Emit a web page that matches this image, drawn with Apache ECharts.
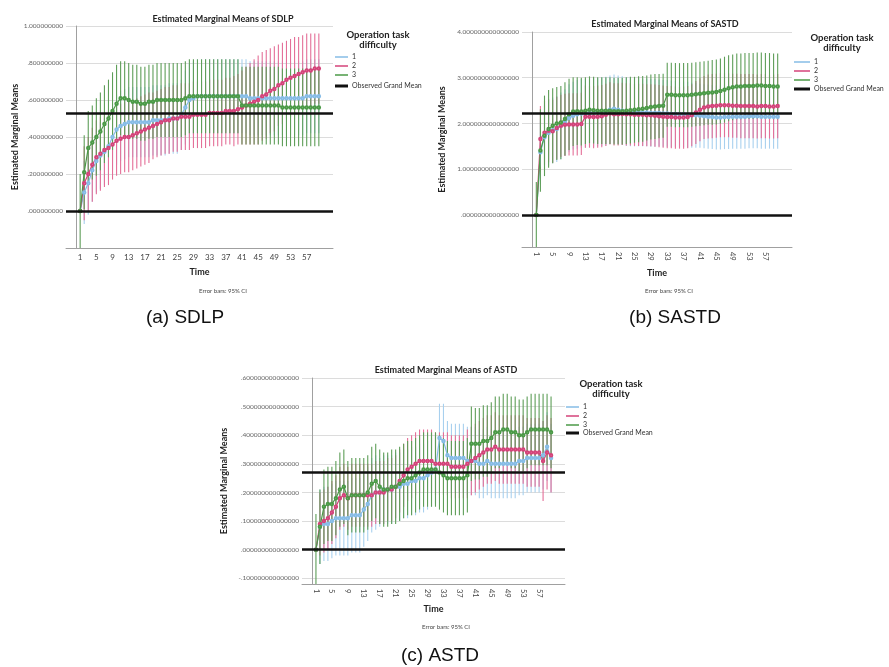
<!doctype html>
<html lang="en">
<head>
<meta charset="UTF-8">
<title>Estimated Marginal Means</title>
<script src="https://cdn.jsdelivr.net/npm/echarts@6/dist/echarts.min.js"></script>
<style>
    html, body { margin: 0; padding: 0; background: #fff; }
    #main { width: 889px; height: 667px; }
</style>
</head>
<body>
<div id="main"></div>
<script>
// time points on the x axis and the labels shown
var time = [1,2,3,4,5,6,7,8,9,10, 11,12,13,14,15,16,17,18,19,20, 21,22,23,24,25,26,27,28,29,30,
            31,32,33,34,35,36,37,38,39,40, 41,42,43,44,45,46,47,48,49,50, 51,52,53,54,55,56,57,58,59,60];
var timeTicks = [1,5,9,13,17,21,25,29,33,37,41,45,49,53,57];
var groups = ['1', '2', '3'];

// (a) SDLP
var sdlpYTicks = [0, 0.2, 0.4, 0.6, 0.8, 1.0];
var sdlpGrand = 0.525;
var sdlpMean1 = [0.00,0.10,0.15,0.22,0.27,0.30,0.32,0.35,0.40,0.44, 0.46,0.47,0.48,0.48,0.48,0.48,0.48,0.48,0.49,0.49,
                 0.49,0.49,0.50,0.50,0.50,0.52,0.56,0.60,0.61,0.62, 0.62,0.62,0.62,0.62,0.62,0.62,0.62,0.62,0.62,0.62,
                 0.62,0.62,0.61,0.61,0.61,0.61,0.61,0.61,0.61,0.61, 0.61,0.61,0.61,0.61,0.61,0.61,0.62,0.62,0.62,0.62];
var sdlpHw1 =   [0.00,0.17,0.17,0.17,0.17,0.18,0.18,0.18,0.18,0.19, 0.19,0.19,0.19,0.19,0.19,0.19,0.19,0.19,0.19,0.19,
                 0.19,0.19,0.19,0.19,0.19,0.19,0.20,0.20,0.20,0.20, 0.20,0.20,0.20,0.20,0.20,0.20,0.20,0.20,0.20,0.20,
                 0.20,0.20,0.20,0.20,0.20,0.20,0.20,0.20,0.20,0.20, 0.20,0.20,0.20,0.20,0.20,0.20,0.20,0.20,0.20,0.20];
var sdlpMean2 = [0.00,0.15,0.20,0.25,0.29,0.31,0.33,0.34,0.36,0.38, 0.39,0.40,0.40,0.41,0.42,0.43,0.44,0.45,0.46,0.47,
                 0.48,0.49,0.49,0.50,0.50,0.51,0.51,0.51,0.52,0.52, 0.52,0.52,0.53,0.53,0.53,0.53,0.54,0.54,0.54,0.55,
                 0.56,0.57,0.58,0.59,0.60,0.62,0.63,0.65,0.66,0.68, 0.69,0.71,0.72,0.73,0.74,0.75,0.76,0.76,0.77,0.77];
var sdlpHw2 =   [0.00,0.20,0.20,0.20,0.20,0.20,0.20,0.20,0.19,0.19, 0.19,0.19,0.19,0.19,0.19,0.19,0.19,0.19,0.18,0.18,
                 0.18,0.18,0.18,0.18,0.18,0.18,0.18,0.18,0.18,0.18, 0.18,0.18,0.18,0.18,0.18,0.18,0.18,0.18,0.19,0.19,
                 0.20,0.21,0.22,0.23,0.24,0.24,0.24,0.23,0.23,0.22, 0.22,0.21,0.21,0.21,0.20,0.20,0.20,0.20,0.19,0.19];
var sdlpMean3 = [0.00,0.21,0.34,0.37,0.40,0.43,0.47,0.50,0.54,0.58, 0.61,0.61,0.60,0.59,0.59,0.58,0.58,0.59,0.59,0.60,
                 0.60,0.60,0.60,0.60,0.60,0.60,0.61,0.62,0.62,0.62, 0.62,0.62,0.62,0.62,0.62,0.62,0.62,0.62,0.62,0.62,
                 0.57,0.57,0.57,0.57,0.57,0.57,0.57,0.57,0.57,0.57, 0.56,0.56,0.56,0.56,0.56,0.56,0.56,0.56,0.56,0.56];
var sdlpHw3 =   [0.20,0.20,0.20,0.20,0.21,0.21,0.21,0.21,0.21,0.21, 0.20,0.20,0.20,0.20,0.20,0.20,0.20,0.20,0.20,0.20,
                 0.20,0.20,0.20,0.20,0.20,0.20,0.20,0.20,0.20,0.20, 0.20,0.20,0.20,0.20,0.20,0.20,0.20,0.20,0.20,0.20,
                 0.21,0.21,0.21,0.21,0.21,0.21,0.21,0.21,0.21,0.21, 0.21,0.21,0.21,0.21,0.21,0.21,0.21,0.21,0.21,0.21];

// (b) SASTD
var sastdYTicks = [0, 1, 2, 3, 4];
var sastdGrand = 2.22;
var sastdMean1 = [0.00,1.37,1.70,1.80,1.85,1.88,1.95,2.02,2.12,2.17, 2.20,2.22,2.22,2.23,2.24,2.25,2.26,2.27,2.30,2.32,
                  2.30,2.28,2.26,2.25,2.25,2.25,2.24,2.24,2.23,2.23, 2.23,2.22,2.22,2.21,2.21,2.20,2.20,2.19,2.18,2.18,
                  2.17,2.16,2.15,2.14,2.13,2.13,2.14,2.14,2.15,2.15, 2.15,2.15,2.16,2.16,2.16,2.15,2.15,2.15,2.15,2.15];
var sastdHw1 =   [0.00,0.70,0.70,0.72,0.72,0.72,0.73,0.73,0.74,0.74, 0.75,0.75,0.75,0.75,0.75,0.75,0.75,0.75,0.75,0.75,
                  0.75,0.75,0.75,0.75,0.75,0.75,0.74,0.74,0.74,0.74, 0.73,0.73,0.73,0.73,0.72,0.72,0.72,0.72,0.71,0.71,
                  0.70,0.70,0.70,0.70,0.70,0.70,0.70,0.70,0.70,0.70, 0.70,0.70,0.70,0.70,0.70,0.70,0.70,0.70,0.70,0.70];
var sastdMean2 = [0.00,1.66,1.80,1.84,1.83,1.90,1.95,1.97,1.98,1.98, 1.98,1.99,2.15,2.15,2.14,2.15,2.16,2.19,2.22,2.20,
                  2.20,2.21,2.20,2.20,2.19,2.19,2.19,2.18,2.18,2.17, 2.16,2.15,2.14,2.14,2.13,2.13,2.13,2.14,2.18,2.24,
                  2.30,2.35,2.37,2.38,2.39,2.40,2.40,2.40,2.39,2.39, 2.38,2.38,2.38,2.38,2.37,2.38,2.38,2.37,2.37,2.38];
var sastdHw2 =   [0.00,0.72,0.70,0.69,0.69,0.68,0.68,0.68,0.68,0.68, 0.68,0.68,0.68,0.68,0.68,0.68,0.68,0.68,0.68,0.68,
                  0.68,0.68,0.68,0.68,0.68,0.68,0.68,0.68,0.68,0.68, 0.68,0.68,0.68,0.68,0.68,0.68,0.68,0.68,0.68,0.69,
                  0.69,0.69,0.70,0.70,0.70,0.70,0.70,0.70,0.70,0.70, 0.70,0.70,0.70,0.70,0.70,0.70,0.70,0.70,0.70,0.70];
var sastdMean3 = [0.00,1.41,1.73,1.88,1.95,2.00,2.02,2.10,2.20,2.26, 2.27,2.26,2.28,2.30,2.29,2.28,2.28,2.28,2.28,2.27,
                  2.27,2.27,2.28,2.29,2.30,2.31,2.32,2.34,2.36,2.37, 2.38,2.39,2.63,2.63,2.62,2.62,2.62,2.62,2.63,2.64,
                  2.65,2.66,2.67,2.68,2.69,2.71,2.74,2.77,2.79,2.81, 2.81,2.82,2.82,2.82,2.83,2.83,2.82,2.82,2.81,2.81];
var sastdHw3 =   [0.72,0.90,0.88,0.85,0.82,0.80,0.80,0.80,0.78,0.75, 0.74,0.74,0.73,0.73,0.73,0.73,0.73,0.73,0.73,0.73,
                  0.73,0.73,0.73,0.73,0.72,0.72,0.72,0.71,0.71,0.71, 0.70,0.70,0.70,0.70,0.70,0.70,0.70,0.70,0.70,0.70,
                  0.70,0.70,0.70,0.71,0.71,0.71,0.72,0.72,0.72,0.72, 0.72,0.72,0.72,0.72,0.72,0.72,0.72,0.72,0.72,0.72];

// (c) ASTD
var astdYTicks = [-0.1, 0, 0.1, 0.2, 0.3, 0.4, 0.5, 0.6];
var astdGrand = 0.266;
var astdMean1 = [0.00,0.08,0.09,0.09,0.10,0.11,0.11,0.11,0.11,0.12, 0.12,0.12,0.14,0.16,0.19,0.20,0.20,0.21,0.21,0.21,
                 0.22,0.22,0.23,0.23,0.24,0.24,0.25,0.25,0.26,0.27, 0.28,0.39,0.38,0.33,0.32,0.32,0.32,0.32,0.31,0.31,
                 0.31,0.30,0.30,0.31,0.30,0.30,0.30,0.30,0.30,0.30, 0.30,0.31,0.31,0.32,0.32,0.32,0.32,0.33,0.36,0.32];
var astdHw1 =   [0.00,0.13,0.13,0.13,0.13,0.13,0.13,0.13,0.13,0.13, 0.13,0.13,0.13,0.13,0.13,0.13,0.12,0.12,0.12,0.12,
                 0.12,0.12,0.12,0.12,0.12,0.12,0.12,0.12,0.12,0.12, 0.12,0.12,0.13,0.12,0.12,0.12,0.12,0.12,0.12,0.12,
                 0.12,0.12,0.12,0.12,0.12,0.12,0.12,0.12,0.12,0.12, 0.12,0.12,0.12,0.12,0.12,0.12,0.12,0.12,0.12,0.12];
var astdMean2 = [0.00,0.09,0.10,0.11,0.13,0.15,0.18,0.19,0.18,0.19, 0.19,0.19,0.19,0.19,0.19,0.20,0.20,0.20,0.21,0.21,
                 0.22,0.24,0.26,0.28,0.29,0.30,0.31,0.31,0.31,0.31, 0.30,0.30,0.30,0.30,0.29,0.29,0.29,0.29,0.30,0.31,
                 0.32,0.33,0.34,0.35,0.35,0.36,0.35,0.35,0.35,0.35, 0.35,0.35,0.35,0.34,0.34,0.34,0.34,0.31,0.34,0.33];
var astdHw2 =   [0.00,0.11,0.11,0.11,0.11,0.11,0.11,0.11,0.11,0.11, 0.11,0.11,0.11,0.11,0.11,0.11,0.11,0.11,0.11,0.11,
                 0.11,0.11,0.11,0.11,0.11,0.11,0.11,0.11,0.11,0.11, 0.11,0.11,0.11,0.11,0.11,0.11,0.11,0.11,0.12,0.12,
                 0.12,0.12,0.12,0.12,0.12,0.12,0.12,0.12,0.12,0.12, 0.12,0.12,0.12,0.12,0.12,0.12,0.12,0.14,0.13,0.13];
var astdMean3 = [0.00,0.08,0.15,0.16,0.16,0.18,0.21,0.22,0.18,0.19, 0.19,0.19,0.19,0.20,0.23,0.24,0.22,0.21,0.21,0.22,
                 0.22,0.23,0.24,0.25,0.25,0.26,0.27,0.28,0.28,0.28, 0.28,0.27,0.26,0.25,0.25,0.25,0.25,0.25,0.26,0.37,
                 0.37,0.37,0.38,0.38,0.39,0.41,0.41,0.42,0.42,0.41, 0.41,0.40,0.40,0.41,0.42,0.42,0.42,0.42,0.42,0.41];
var astdHw3 =   [0.125,0.13,0.13,0.13,0.13,0.13,0.13,0.13,0.13,0.13, 0.13,0.13,0.13,0.13,0.13,0.13,0.13,0.13,0.13,0.13,
                 0.13,0.13,0.13,0.13,0.13,0.13,0.13,0.13,0.13,0.13, 0.13,0.13,0.13,0.13,0.13,0.13,0.13,0.13,0.13,0.13,
                 0.125,0.125,0.125,0.125,0.125,0.125,0.125,0.125,0.125,0.125, 0.125,0.125,0.125,0.125,0.125,0.125,0.125,0.125,0.125,0.125];

var lineColors = ['#86bce6', '#d4437a', '#4b9a47'];
var barColors = ['#a8d0ee', '#e46f98', '#5e9e58'];
var font = 'Lato, "Open Sans", sans-serif';

var panels = [
    {
        title: 'Estimated Marginal Means of SDLP', caption: '(a) SDLP',
        means: [sdlpMean1, sdlpMean2, sdlpMean3], hws: [sdlpHw1, sdlpHw2, sdlpHw3],
        grand: sdlpGrand, yTicks: sdlpYTicks, yMin: -0.2, yMax: 1.0, decimals: 9,
        grid: {left: 66, top: 26, width: 267, height: 222}, rotate: 0, labelSize: 8,
        yNameGap: 46, xNameGap: 20,
        titleX: 223, titleY: 19, errX: 223, errY: 291, capX: 185, capY: 318,
        legX: 335, legY: 52.5, legW: 13, ogmY: 81.5, legTitleX: 378, legTitleY: 40
    },
    {
        title: 'Estimated Marginal Means of SASTD', caption: '(b) SASTD',
        means: [sastdMean1, sastdMean2, sastdMean3], hws: [sastdHw1, sastdHw2, sastdHw3],
        grand: sastdGrand, yTicks: sastdYTicks, yMin: -0.7, yMax: 4.0, decimals: 15,
        grid: {left: 522, top: 32, width: 270, height: 215}, rotate: -90, labelSize: 7.5,
        yNameGap: 75, xNameGap: 22,
        titleX: 665, titleY: 24, errX: 669, errY: 291, capX: 675, capY: 318,
        legX: 794, legY: 57.5, legW: 16, ogmY: 84.5, legTitleX: 842, legTitleY: 43
    },
    {
        title: 'Estimated Marginal Means of ASTD', caption: '(c) ASTD',
        means: [astdMean1, astdMean2, astdMean3], hws: [astdHw1, astdHw2, astdHw3],
        grand: astdGrand, yTicks: astdYTicks, yMin: -0.12, yMax: 0.6, decimals: 15,
        grid: {left: 302, top: 378, width: 263, height: 206}, rotate: -90, labelSize: 7.5,
        yNameGap: 73, xNameGap: 21,
        titleX: 446, titleY: 370, errX: 446, errY: 627, capX: 440, capY: 656,
        legX: 566, legY: 402.5, legW: 13, ogmY: 428.5, legTitleX: 611, legTitleY: 389
    }
];

function labelFormatter(decimals) {
    return function (v) {
        return v.toFixed(decimals).replace(/^(-?)0\./, '$1.');
    };
}

function errorBar(params, api) {
    var x = api.value(0);
    var lo = api.coord([x, api.value(1)]);
    var hi = api.coord([x, api.value(2)]);
    return {
        type: 'line',
        shape: {x1: lo[0], y1: lo[1], x2: hi[0], y2: hi[1]},
        style: {stroke: api.visual('color'), lineWidth: 1.1}
    };
}

function init() {
    var myChart = echarts.init(document.getElementById('main'), null, {renderer: 'canvas'});
    var option = {
        backgroundColor: '#fff',
        animation: false,
        textStyle: {fontFamily: font},
        grid: [], xAxis: [], yAxis: [], series: [], legend: [], graphic: []
    };

    panels.forEach(function (p, k) {
        option.grid.push({
            left: p.grid.left, top: p.grid.top, width: p.grid.width, height: p.grid.height,
            containLabel: false, outerBoundsMode: 'none'
        });
        option.xAxis.push({
            type: 'value', gridIndex: k, min: -2.5, max: 63.5,
            name: 'Time', nameLocation: 'middle', nameGap: p.xNameGap,
            nameTextStyle: {fontSize: 9, fontWeight: 'bold', color: '#222', fontFamily: font},
            axisLine: {onZero: false, lineStyle: {color: '#a0a0a0', width: 1}},
            axisTick: {show: false, customValues: timeTicks},
            axisLabel: {customValues: timeTicks, rotate: p.rotate, fontSize: p.labelSize, color: '#444',
                        margin: 5, fontFamily: font},
            splitLine: {show: false}
        });
        option.yAxis.push({
            type: 'value', gridIndex: k, min: p.yMin, max: p.yMax,
            name: 'Estimated Marginal Means', nameLocation: 'middle', nameGap: p.yNameGap,
            nameTextStyle: {fontSize: 9, fontWeight: 'bold', color: '#222', fontFamily: font},
            axisLine: {show: true, lineStyle: {color: '#a0a0a0', width: 1}},
            axisTick: {show: false, customValues: p.yTicks},
            axisLabel: {customValues: p.yTicks, formatter: labelFormatter(p.decimals),
                        fontSize: 6.5, color: '#666', margin: 3, fontFamily: font},
            splitLine: {show: true, lineStyle: {color: '#dcdcdc', width: 1}}
        });

        // error bars, groups 1..3
        groups.forEach(function (g, j) {
            option.series.push({
                name: g, type: 'custom', xAxisIndex: k, yAxisIndex: k, clip: true, z: 2,
                renderItem: errorBar,
                itemStyle: {color: barColors[j]},
                encode: {x: 0, y: [1, 2]},
                data: time.map(function (t, i) {
                    return [t, p.means[j][i] - p.hws[j][i], p.means[j][i] + p.hws[j][i]];
                })
            });
        });
        // mean lines
        groups.forEach(function (g, j) {
            option.series.push({
                name: g, type: 'line', xAxisIndex: k, yAxisIndex: k, z: 3,
                symbol: 'emptyCircle', symbolSize: 2.5, showSymbol: true,
                itemStyle: {color: lineColors[j], borderWidth: 0.8},
                lineStyle: {color: lineColors[j], width: 1.2},
                data: time.map(function (t, i) { return [t, p.means[j][i]]; })
            });
        });
        // grand mean and zero reference
        option.series.push({
            name: 'Observed Grand Mean', type: 'line', xAxisIndex: k, yAxisIndex: k, z: 4,
            data: [], itemStyle: {color: '#111'},
            markLine: {
                silent: true, symbol: ['none', 'none'], label: {show: false},
                lineStyle: {color: '#111', width: 2.5, type: 'solid'},
                data: [{yAxis: p.grand}, {yAxis: 0}]
            }
        });

        option.legend.push({
            orient: 'vertical', left: p.legX, top: p.legY, padding: 0, itemGap: 0,
            itemWidth: p.legW, itemHeight: 1.5, icon: 'rect', selectedMode: false,
            textStyle: {fontSize: 7, lineHeight: 9, color: '#333', fontFamily: font, padding: [0, 0, 0, -1]},
            data: groups.map(function (g, j) { return {name: g, itemStyle: {color: lineColors[j]}}; })
        });
        option.legend.push({
            orient: 'vertical', left: p.legX, top: p.ogmY, padding: 0,
            itemWidth: p.legW, itemHeight: 3, icon: 'rect', selectedMode: false,
            textStyle: {fontSize: 7, lineHeight: 9, color: '#333', fontFamily: font, padding: [0, 0, 0, -1]},
            data: [{name: 'Observed Grand Mean', itemStyle: {color: '#111'}}]
        });

        option.graphic.push(
            {type: 'text', x: p.titleX, y: p.titleY, style: {text: p.title, textAlign: 'center',
                textVerticalAlign: 'middle', font: 'bold 9px ' + font, fill: '#222'}},
            {type: 'text', x: p.legTitleX, y: p.legTitleY, style: {text: 'Operation task\ndifficulty',
                textAlign: 'center', textVerticalAlign: 'middle', lineHeight: 9.5,
                font: 'bold 9.5px ' + font, fill: '#222'}},
            {type: 'text', x: p.errX, y: p.errY, style: {text: 'Error bars: 95% CI', textAlign: 'center',
                textVerticalAlign: 'middle', font: '6px ' + font, fill: '#444'}},
            {type: 'text', x: p.capX, y: p.capY, style: {text: p.caption, textAlign: 'center',
                textVerticalAlign: 'middle', font: '19px "Liberation Sans", Arial, sans-serif', fill: '#111'}}
        );
    });

    myChart.setOption(option);
}

init();
</script>
</body>
</html>
